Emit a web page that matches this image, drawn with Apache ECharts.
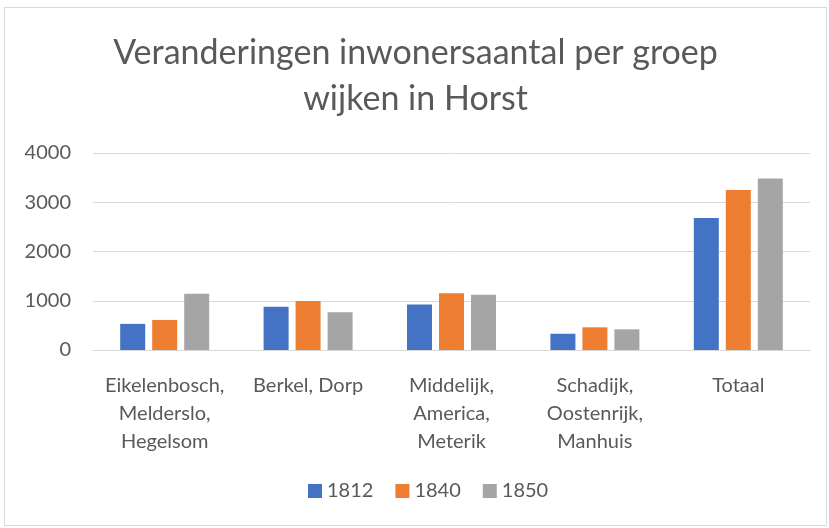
<!DOCTYPE html>
<html>
<head>
<meta charset="utf-8">
<script src="https://cdn.jsdelivr.net/npm/echarts@6/dist/echarts.min.js"></script>
<style>
  html, body { margin: 0; padding: 0; background: #fff; }
  #chart {
    position: absolute;
    left: 4px;
    top: 7px;
    width: 823px;
    height: 519px;
    border: 1px solid #d9d9d9;
    box-sizing: border-box;
  }
</style>
</head>
<body>
<div id="chart"></div>
<script>
const categories = [
  "Eikelenbosch,\nMelderslo,\nHegelsom",
  "Berkel, Dorp",
  "Middelijk,\nAmerica,\nMeterik",
  "Schadijk,\nOostenrijk,\nManhuis",
  "Totaal",
];
const values1812 = [530, 880, 925, 330, 2680];
const values1840 = [610, 995, 1150, 460, 3250];
const values1850 = [1140, 765, 1120, 420, 3480];
const yTicks = [0, 1000, 2000, 3000, 4000];

const fontFamily = "Lato, 'Open Sans', sans-serif";
const textColor = "#595959";

const chart = echarts.init(document.getElementById("chart"));

const barSeries = (name, data, color) => ({
  name,
  type: "bar",
  data,
  barWidth: 25,
  barGap: "28%",
  itemStyle: { color },
});

chart.setOption({
  animation: false,
  textStyle: { fontFamily },
  title: {
    text: "Veranderingen inwonersaantal per groep\nwijken in Horst",
    left: "center",
    top: 17,
    textStyle: {
      fontFamily,
      fontSize: 34,
      fontWeight: "normal",
      color: textColor,
      lineHeight: 46,
    },
  },
  legend: {
    bottom: 19,
    left: 298,
    itemWidth: 14,
    itemHeight: 14,
    itemGap: 22,
    icon: "rect",
    textStyle: { fontSize: 20, color: textColor, fontFamily },
    data: ["1812", "1840", "1850"],
  },
  grid: {
    left: 88,
    right: 16,
    top: 145,
    bottom: 175,
  },
  xAxis: {
    type: "category",
    data: categories,
    axisLine: { lineStyle: { color: "#d9d9d9", width: 1 } },
    axisTick: { show: false },
    axisLabel: {
      interval: 0,
      fontSize: 20,
      color: textColor,
      lineHeight: 28,
      margin: 22,
      fontFamily,
    },
  },
  yAxis: {
    type: "value",
    min: yTicks[0],
    max: yTicks[yTicks.length - 1],
    interval: 1000,
    axisLine: { show: false },
    axisTick: { show: false },
    splitLine: { lineStyle: { color: "#d9d9d9", width: 1 } },
    axisLabel: {
      fontSize: 20,
      color: textColor,
      margin: 22,
      fontFamily,
      formatter: (v) => String(v),
    },
  },
  series: [
    barSeries("1812", values1812, "#4472c4"),
    barSeries("1840", values1840, "#ed7d31"),
    barSeries("1850", values1850, "#a5a5a5"),
  ],
});
</script>
</body>
</html>
